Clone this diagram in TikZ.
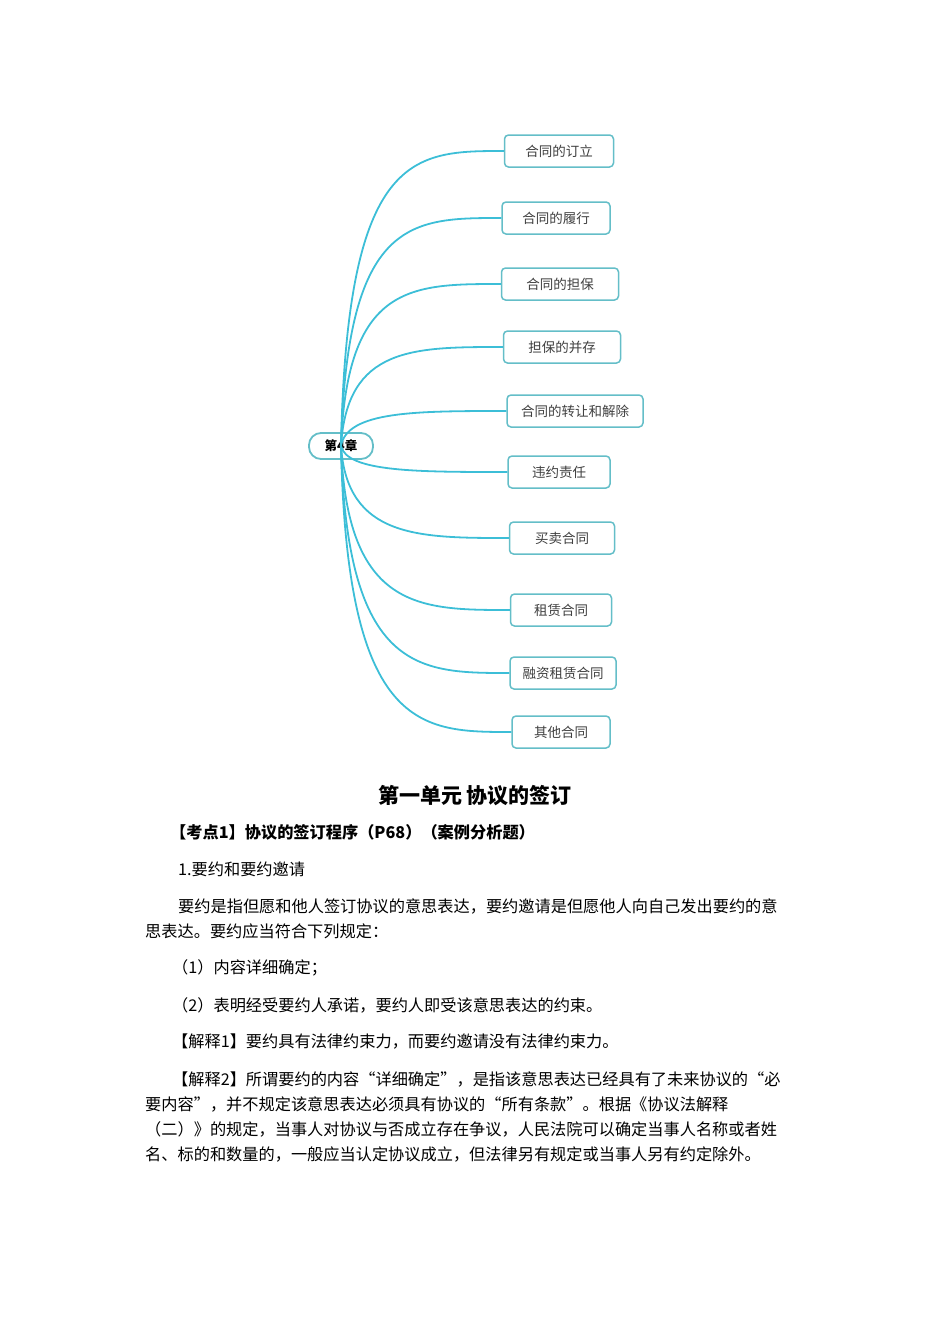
\documentclass[tikz,border=0pt]{standalone}
\usepackage{fontspec}
\newfontfamily\cjk{Noto Sans CJK SC}
\definecolor{mapline}{RGB}{60,190,215}
\definecolor{mapbox}{RGB}{100,190,200}
\begin{document}
\begin{tikzpicture}[x=1pt,y=-1pt,
  leaf/.style={draw=mapbox, line width=1.5pt, rounded corners=4pt, fill=white, minimum height=32pt, font=\cjk\fontsize{13.5}{15}\selectfont, text=black!75, inner sep=2pt},
  link/.style={draw=mapline, line width=1.8pt},
  body/.style={anchor=west, inner sep=0pt, font=\cjk\fontsize{16.2}{18}\selectfont},
  bodyb/.style={anchor=west, inner sep=0pt, font=\cjk\bfseries\fontsize{16.2}{18}\selectfont}]
\useasboundingbox (0,0) rectangle (950,1344);
\node[draw=mapbox, line width=1.8pt, rounded corners=12pt, minimum width=64pt, minimum height=26pt, font=\cjk\bfseries\fontsize{12.5}{14}\selectfont, inner sep=1pt] (root) at (341,446) {第4章};
\foreach \n/\x/\y/\w/\t in {a/559/151/109/合同的订立, b/556/218/108/合同的履行, c/560/284/117/合同的担保, d/562/347/117/担保的并存, e/575/411/136/合同的转让和解除, f/559/472/102/违约责任, g/562/538/105/买卖合同, h/561/610/101/租赁合同, i/563/673/106/融资租赁合同, j/561/732/98/其他合同}{
  \node[leaf, minimum width=\w pt] (\n) at (\x,\y) {\t};
  \draw[link] (root.center) .. controls ([xshift=6pt]root.center |- \n.west) and ([xshift=-90pt]\n.west) .. (\n.west);
}
\node[font=\cjk\bfseries\fontsize{21}{24}\selectfont, inner sep=0pt] (title) at (475,796) {第一单元\ 协议的签订};
\node[bodyb] (l1) at (170,832) {【考点1】协议的签订程序（P68）（案例分析题）};
\node[body] (l2) at (178,869) {1.要约和要约邀请};
\node[body] (l3) at (178,906) {要约是指但愿和他人签订协议的意思表达，要约邀请是但愿他人向自己发出要约的意};
\node[body] (l4) at (145,931) {思表达。要约应当符合下列规定：};
\node[body] (l5) at (172,968) {（1）内容详细确定；};
\node[body] (l6) at (172,1005) {（2）表明经受要约人承诺，要约人即受该意思表达的约束。};
\node[body] (l7) at (172,1042) {【解释1】要约具有法律约束力，而要约邀请没有法律约束力。};
\node[body] (l8) at (172,1079) {【解释2】所谓要约的内容“详细确定”，是指该意思表达已经具有了未来协议的“必};
\node[body] (l9) at (145,1104) {要内容”，并不规定该意思表达必须具有协议的“所有条款”。根据《协议法解释};
\node[body] (l10) at (145,1129) {（二）》的规定，当事人对协议与否成立存在争议，人民法院可以确定当事人名称或者姓};
\node[body] (l11) at (145,1154) {名、标的和数量的，一般应当认定协议成立，但法律另有规定或当事人另有约定除外。};
\end{tikzpicture}
\end{document}
